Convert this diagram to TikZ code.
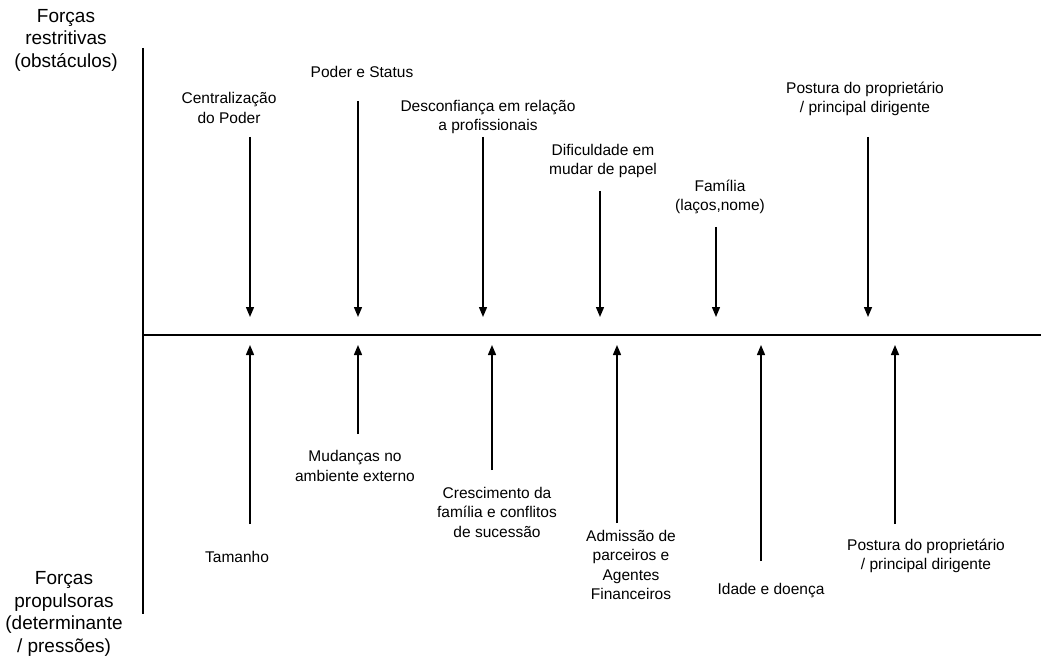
\documentclass[tikz,border=0pt]{standalone}
\usepackage{fontspec}
\setmainfont{Liberation Sans}
\usetikzlibrary{arrows.meta}
\begin{document}
\begin{tikzpicture}[x=1pt,y=-1pt,
  lab/.style={align=center,inner sep=0pt,font=\fontsize{15.5}{19.5}\selectfont},
  side/.style={align=center,inner sep=0pt,font=\fontsize{19}{22.5}\selectfont},
  force/.style={line width=1.4pt,-{Triangle[length=10pt,width=8pt]}},
  axis/.style={line width=1.6pt},
  base/.style={line width=2.4pt}]
\useasboundingbox (0,0) rectangle (1041,660);
% side labels
\node[side] (sr) at (66,40) {Forças\\restritivas\\(obstáculos)};
\node[side] (sp) at (64,614) {Forças\\propulsoras\\(determinante\\/ pressões)};
% axes
\coordinate (vtop) at (143,48);
\coordinate (vbot) at (143,614);
\coordinate (hl) at (143,335);
\coordinate (hr) at (1041,335);
\draw[axis] (vtop) -- (vbot);
\draw[base] (hl) -- (hr);
% restraining forces (top)
\node[lab] (a1) at (229,108) {Centralização\\do Poder};
\coordinate (a1s) at (250,137); \coordinate (a1e) at (250,317);
\draw[force] (a1s) -- (a1e);
\node[lab] (a2) at (362,72) {Poder e Status};
\coordinate (a2s) at (358,101); \coordinate (a2e) at (358,317);
\draw[force] (a2s) -- (a2e);
\node[lab] (a3) at (488,117) {Desconfiança em relação\\a profissionais};
\coordinate (a3s) at (483,137); \coordinate (a3e) at (483,317);
\draw[force] (a3s) -- (a3e);
\node[lab] (a4) at (603,161) {Dificuldade em\\mudar de papel};
\coordinate (a4s) at (600,191); \coordinate (a4e) at (600,317);
\draw[force] (a4s) -- (a4e);
\node[lab] (a5) at (720,197) {Família\\(laços,nome)};
\coordinate (a5s) at (716,227); \coordinate (a5e) at (716,317);
\draw[force] (a5s) -- (a5e);
\node[lab] (a6) at (865,99) {Postura do proprietário\\/ principal dirigente};
\coordinate (a6s) at (868,137); \coordinate (a6e) at (868,317);
\draw[force] (a6s) -- (a6e);
% driving forces (bottom)
\node[lab] (b1) at (237,557) {Tamanho};
\coordinate (b1s) at (250,524); \coordinate (b1e) at (250,345);
\draw[force] (b1s) -- (b1e);
\node[lab] (b2) at (355,466) {Mudanças no\\ambiente externo};
\coordinate (b2s) at (358,434); \coordinate (b2e) at (358,345);
\draw[force] (b2s) -- (b2e);
\node[lab] (b3) at (497,512) {Crescimento da\\família e conflitos\\de sucessão};
\coordinate (b3s) at (492,470); \coordinate (b3e) at (492,345);
\draw[force] (b3s) -- (b3e);
\node[lab] (b4) at (631,565) {Admissão de\\parceiros e\\Agentes\\Financeiros};
\coordinate (b4s) at (617,523); \coordinate (b4e) at (617,345);
\draw[force] (b4s) -- (b4e);
\node[lab] (b5) at (771,591) {Idade e doença};
\coordinate (b5s) at (761,561); \coordinate (b5e) at (761,345);
\draw[force] (b5s) -- (b5e);
\node[lab] (b6) at (926,556) {Postura do proprietário\\/ principal dirigente};
\coordinate (b6s) at (895,524); \coordinate (b6e) at (895,345);
\draw[force] (b6s) -- (b6e);
\end{tikzpicture}
\end{document}
